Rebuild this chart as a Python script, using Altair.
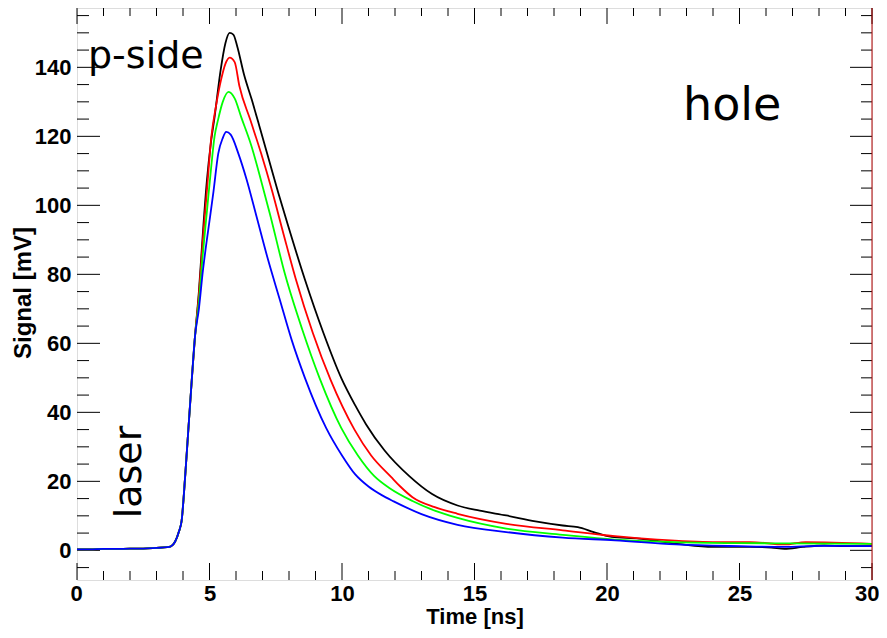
import altair as alt
import pandas as pd

# ---------------- data ----------------
# shared baseline + leading edge (all four curves overlap here)
t_common = [0.0, 0.5, 1.0, 1.5, 2.0, 2.5, 3.0, 3.4, 3.55, 3.7, 3.85, 3.95, 4.08, 4.2, 4.33, 4.45]
v_common = [0.3, 0.3, 0.4, 0.4, 0.5, 0.5, 0.7, 0.9, 1.2, 2.5, 5.5, 8.7, 21.3, 34.8, 49.3, 61.8]

t_black = [4.6, 4.75, 4.9, 5.05, 5.19, 5.42, 5.6, 5.76, 5.9, 6.05, 6.3, 6.6, 6.9, 7.25, 7.6, 7.97,
           8.6, 9.3, 9.97, 10.5, 10.91, 11.6, 12.54, 13.4, 14.36, 15.2, 16.2, 17.3, 18.33, 18.9,
           19.5, 20.17, 21.2, 22.0, 22.86, 24.0, 25.4, 26.2, 26.7, 27.4, 28.2, 29.0, 30.0]
v_black = [75, 92, 107, 118, 125.5, 139.2, 147, 150, 149.5, 146, 138, 130.5, 122.5, 113, 103.5, 94,
           78.5, 63, 50, 42, 36.5, 29, 21.5, 16.3, 13, 11.5, 10.1, 8.4, 7.2, 6.7,
           5.3, 3.9, 3.4, 2.6, 1.7, 1.0, 1.0, 0.8, 0.4, 1.0, 1.4, 1.2, 1.2]

t_red = [4.6, 4.75, 4.9, 5.07, 5.25, 5.44, 5.6, 5.76, 5.95, 6.13, 6.53, 6.95, 7.35, 7.8, 8.25,
         8.9, 9.57, 10.47, 11.1, 11.85, 12.2, 12.66, 13.5, 14.36, 16.2, 18.33, 20.3, 21.9, 24.0,
         25.4, 26.7, 27.5, 30.0]
v_red = [74, 90, 104, 119.9, 129, 136.5, 141, 142.8, 141.5, 134.5, 125, 115, 104.5, 91.5, 78.8,
         63, 49.4, 35, 27.5, 21.3, 18.5, 15.4, 12.5, 10.6, 7.7, 5.8, 4.1, 3.1, 2.4,
         2.4, 1.7, 2.4, 1.9]

t_green = [4.6, 4.75, 4.9, 5.05, 5.19, 5.32, 5.5, 5.72, 5.95, 6.2, 6.57, 6.97, 7.28, 7.85,
           8.5, 9.15, 9.97, 10.6, 11.22, 11.8, 12.66, 13.5, 14.36, 16.2, 18.33, 20.3, 22.6,
           25.0, 27.0, 30.0]
v_green = [72, 86, 98, 110, 119.9, 124.7, 130, 132.9, 131, 125.5, 117.5, 106.5, 97.5, 80,
           64, 50, 35.5, 27.5, 21.5, 18, 14.3, 11.5, 9.4, 6.3, 4.5, 3.1, 2.4,
           2.1, 2.0, 1.9]

t_blue = [4.6, 4.75, 4.9, 5.02, 5.15, 5.33, 5.5, 5.63, 5.8, 6.09, 6.4, 6.78, 7.2, 7.64, 8.1,
          8.6, 9.4, 10.0, 10.5, 11.0, 11.5, 11.95, 13.0, 14.36, 16.2, 18.33, 20.3, 22.6, 25.0,
          26.7, 28.0, 30.0]
v_blue = [70, 81, 90, 96.6, 104, 115, 119.5, 121.3, 120.5, 115, 107.5, 96.6, 84.5, 73, 61,
          50, 35.5, 27.5, 22, 18.5, 16, 14.2, 10.5, 7.4, 5.3, 3.7, 2.9, 1.7, 1.2,
          1.0, 1.3, 1.2]

series_names = ["black", "red", "green", "blue"]
series_colors = ["#000000", "#ff0000", "#00ff00", "#0000ff"]

x_major = [0, 5, 10, 15, 20, 25, 30]
x_minor = [i for i in range(0, 31) if i % 5 != 0]
y_major = [0, 20, 40, 60, 80, 100, 120, 140]
y_minor = [v for v in range(-5, 160, 5) if v % 20 != 0]

annot_text = ["p-side", "hole", "laser"]
x_title = "Time [ns]"
y_title = "Signal [mV]"

# ---------------- chart ----------------
W, H = 795, 572
xs = alt.Scale(domain=[0, 30], nice=False, zero=False)
ys = alt.Scale(domain=[-8.6, 157.2], nice=False, zero=False)
FONT_B = "Liberation Sans"
FONT_T = "DejaVu Sans"

curves = {
    "black": (t_black, v_black),
    "red": (t_red, v_red),
    "green": (t_green, v_green),
    "blue": (t_blue, v_blue),
}

layers = []
for name, col in zip(series_names, series_colors):
    tt, vv = curves[name]
    df = pd.DataFrame({"t": t_common + tt, "v": v_common + vv})
    ln = alt.Chart(df).mark_line(color=col, strokeWidth=1.8, clip=True,
                                 interpolate="monotone").encode(
        x=alt.X("t:Q", scale=xs,
                axis=alt.Axis(values=x_major, ticks=False, domain=False, grid=False, title=None,
                              labelFont=FONT_B, labelFontWeight="bold", labelFontSize=22,
                              labelColor="black", labelPadding=3, labelFlush=True,
                              labelFlushOffset=7, labelOverlap=False)),
        y=alt.Y("v:Q", scale=ys,
                axis=alt.Axis(values=y_major, ticks=False, domain=False, grid=False, title=None,
                              labelFont=FONT_B, labelFontWeight="bold", labelFontSize=22,
                              labelColor="black", labelPadding=6, labelFlush=False,
                              labelOverlap=False)),
        order=alt.Order("t:Q"),
    )
    layers.append(ln)

# inward ticks (ROOT style) on all four sides
def yticks(vals, length):
    d = pd.DataFrame({"v": vals})
    left = alt.Chart(d).mark_rule(color="black", strokeWidth=1).encode(
        y=alt.Y("v:Q", scale=ys), x=alt.value(0), x2=alt.value(length))
    right = alt.Chart(d).mark_rule(color="black", strokeWidth=1).encode(
        y=alt.Y("v:Q", scale=ys), x=alt.value(W), x2=alt.value(W - length + 1))
    return [left, right]

def xticks(vals, lb, lt):
    d = pd.DataFrame({"t": vals})
    bot = alt.Chart(d).mark_rule(color="black", strokeWidth=1).encode(
        x=alt.X("t:Q", scale=xs), y=alt.value(H), y2=alt.value(H - lb))
    top = alt.Chart(d).mark_rule(color="black", strokeWidth=1).encode(
        x=alt.X("t:Q", scale=xs), y=alt.value(0), y2=alt.value(lt))
    return [bot, top]

tick_layers = yticks(y_major, 23) + yticks(y_minor, 12) + xticks(x_major, 17, 16) + xticks(x_minor, 9, 8)

# right frame edge (appears red in the reference)
redge = alt.Chart(pd.DataFrame({"a": [0]})).mark_rule(color="#b00000", strokeWidth=1).encode(
    x=alt.value(W), y=alt.value(0), y2=alt.value(H))

ann = pd.DataFrame({"txt": annot_text})
pside = alt.Chart(ann[ann.txt == "p-side"]).mark_text(
    font=FONT_T, fontSize=38, align="left", baseline="alphabetic", color="black").encode(
    text="txt:N", x=alt.value(11), y=alt.value(60))
hole = alt.Chart(ann[ann.txt == "hole"]).mark_text(
    font=FONT_T, fontSize=46, align="left", baseline="alphabetic", color="black").encode(
    text="txt:N", x=alt.value(606), y=alt.value(112))
laser = alt.Chart(ann[ann.txt == "laser"]).mark_text(
    font=FONT_T, fontSize=38, align="center", baseline="alphabetic", angle=270, color="black").encode(
    text="txt:N", x=alt.value(64), y=alt.value(464))

titles = pd.DataFrame({"txt": [x_title, y_title]})
xt = alt.Chart(titles[titles.txt == x_title]).mark_text(
    font=FONT_B, fontSize=22, fontWeight="bold", align="center", baseline="alphabetic",
    color="black").encode(text="txt:N", x=alt.value(398), y=alt.value(616))
yt = alt.Chart(titles[titles.txt == y_title]).mark_text(
    font=FONT_B, fontSize=24, fontWeight="bold", align="center", baseline="alphabetic",
    angle=270, color="black").encode(text="txt:N", x=alt.value(-46), y=alt.value(285))

chart = alt.layer(*tick_layers, *layers, redge, pside, hole, laser, xt, yt).properties(
    width=W, height=H,
    autosize=alt.AutoSizeParams(type="none"),
    padding={"left": 69, "top": 0, "right": 7, "bottom": 50},
).configure_view(stroke="black", strokeWidth=1.5).configure(background="white")

chart.save("out.html", embed_options={"renderer": "svg", "actions": False})
